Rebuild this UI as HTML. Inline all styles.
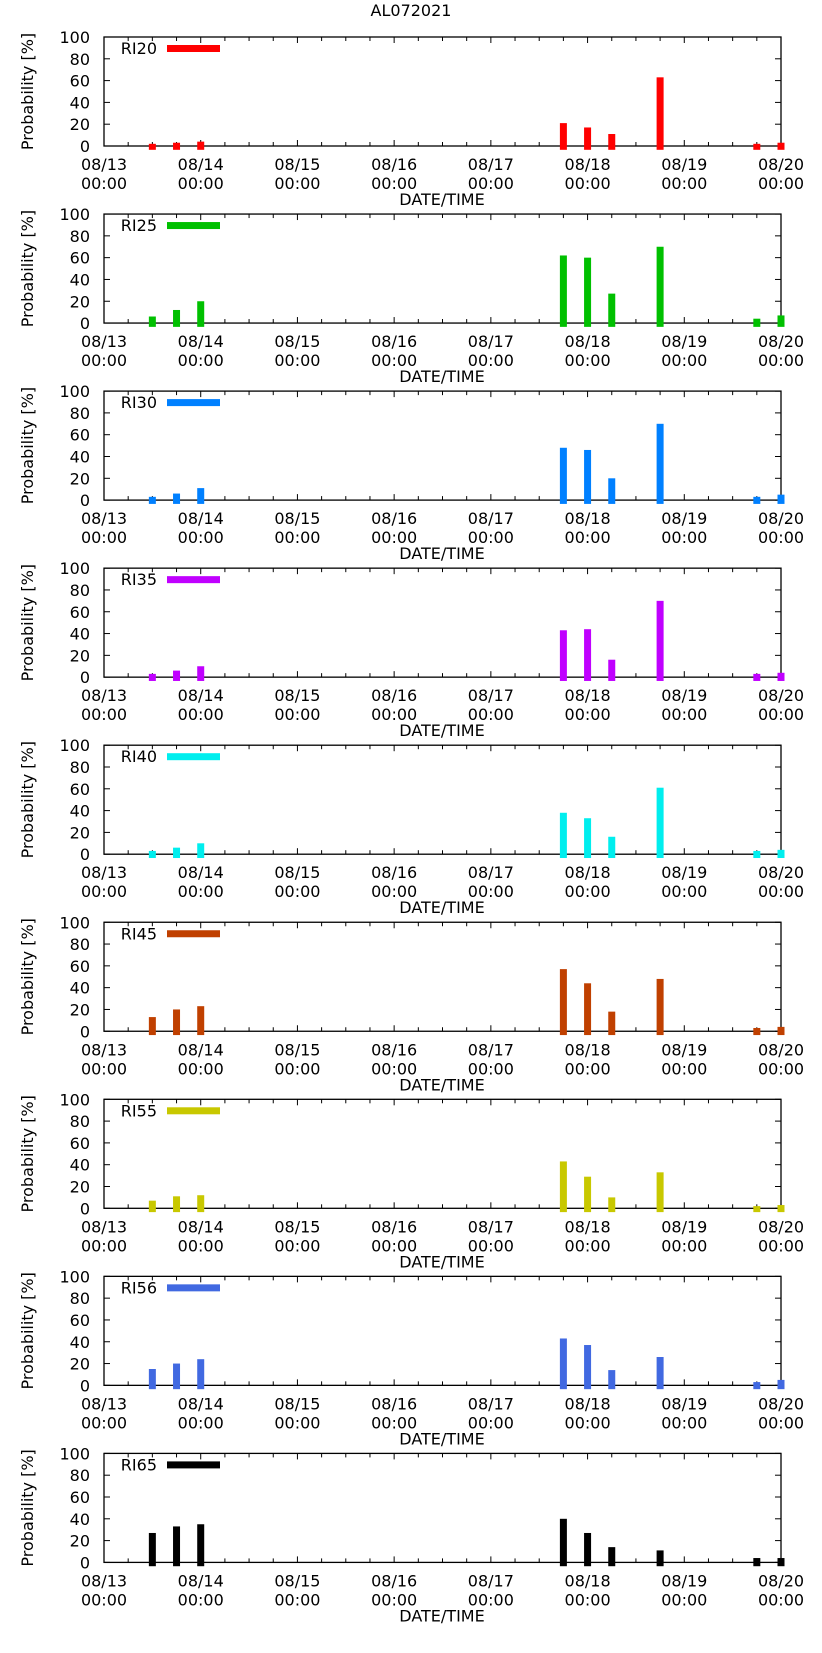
<!DOCTYPE html>
<html><head><meta charset="utf-8"><style>
html,body{margin:0;padding:0;background:#fff;}
svg{display:block;font-family:"DejaVu Sans","Liberation Sans",sans-serif;}
</style></head><body>
<svg id="c" width="822" height="1653" xmlns="http://www.w3.org/2000/svg">
<text x="411" y="16" font-size="16" text-anchor="middle">AL072021</text>
</svg>
<script>
const seriesNames = ["RI20","RI25","RI30","RI35","RI40","RI45","RI55","RI56","RI65"];
const barTimes = [0.5,0.75,1.0,4.75,5.0,5.25,5.75,6.75,7.0];
const ri20 = [2,3,4,21,17,11,63,2,3];
const ri25 = [6,12,20,62,60,27,70,4,7];
const ri30 = [3,6,11,48,46,20,70,3,5];
const ri35 = [3,6,10,43,44,16,70,3,4];
const ri40 = [3,6,10,38,33,16,61,3,4];
const ri45 = [13,20,23,57,44,18,48,3,4];
const ri55 = [7,11,12,43,29,10,33,2,3];
const ri56 = [15,20,24,43,37,14,26,3,5];
const ri65 = [27,33,35,40,27,14,11,4,4];
const xTickTop = ["08/13","08/14","08/15","08/16","08/17","08/18","08/19","08/20"];
const xTickBottom = ["00:00","00:00","00:00","00:00","00:00","00:00","00:00","00:00"];
const yTicks = [0,20,40,60,80,100];
const allSeries = [ri20,ri25,ri30,ri35,ri40,ri45,ri55,ri56,ri65];
const colors = ["#ff0000","#00c000","#0080ff","#c000ff","#00eeee","#c04000","#c8c800","#4169e1","#000000"];

const svg = document.getElementById('c');
const NS = "http://www.w3.org/2000/svg";
const L=104, R=781, H=109, PITCH=177.05, TOP0=37;
const xs = d => L + d*(R-L)/7;
function mk(tag, attrs, parent){const e=document.createElementNS(NS,tag);for(const k in attrs)e.setAttribute(k,attrs[k]);(parent||svg).appendChild(e);return e;}

seriesNames.forEach((nm,i)=>{
  const top = TOP0 + i*PITCH, bot = top+H;
  const ys = v => bot - v*H/100;
  const g = mk('g',{});
  
  
  // frame
  const f = mk('rect',{x:L,y:top,width:R-L,height:H,fill:'none',stroke:'#000','stroke-width':1.3},g);
  
  
  // x minor ticks
  for(let k=0;k<=28;k++){
    const x=xs(k/4); const len = (k%4===0)?6:4;
    mk('line',{x1:x,x2:x,y1:bot,y2:bot-len,stroke:'#000','stroke-width':1},g);
    mk('line',{x1:x,x2:x,y1:top,y2:top+len,stroke:'#000','stroke-width':1},g);
  }
  // y ticks
  yTicks.forEach(t=>{
    const y=ys(t);
    mk('line',{x1:L,x2:L+6,y1:y,y2:y,stroke:'#000'},g);
    mk('line',{x1:R,x2:R-6,y1:y,y2:y,stroke:'#000'},g);
    const tx = mk('text',{x:90,y:y+6,'font-size':16,'text-anchor':'end'},g);
    tx.textContent=t;
    
    
  });
  // bars (drawn over ticks)
  allSeries[i].forEach((v,j)=>{
    const x = xs(barTimes[j]);
    const r = mk('rect',{x:x-3.5,y:ys(v),width:7,height:ys(-3.5)-ys(v),fill:colors[i]},g);
    
    
  });
  xTickTop.forEach((t,k)=>{
    const x=xs(k);
    const a=mk('text',{x:x,y:bot+24,'font-size':16,'text-anchor':'middle'},g);
    a.textContent=t;
    
    
    const b=mk('text',{x:x,y:bot+43,'font-size':16,'text-anchor':'middle'},g);
    b.textContent=xTickBottom[k];
    
    
  });
  const xl=mk('text',{x:442,y:bot+59,'font-size':16,'text-anchor':'middle'},g);
  xl.textContent='DATE/TIME';
  
  
  const yl=mk('text',{x:0,y:0,'font-size':16,'text-anchor':'middle',transform:`translate(33,${top+H/2}) rotate(-90)`},g);
  yl.textContent='Probability [%]';
  
  
  // legend
  const lt=mk('text',{x:157,y:top+17,'font-size':16,'text-anchor':'end'},g);
  lt.textContent=nm;
  
  
  const ll=mk('rect',{x:167,y:top+8,width:53,height:7,fill:colors[i]},g);
  
  
});
</script>
</body></html>
